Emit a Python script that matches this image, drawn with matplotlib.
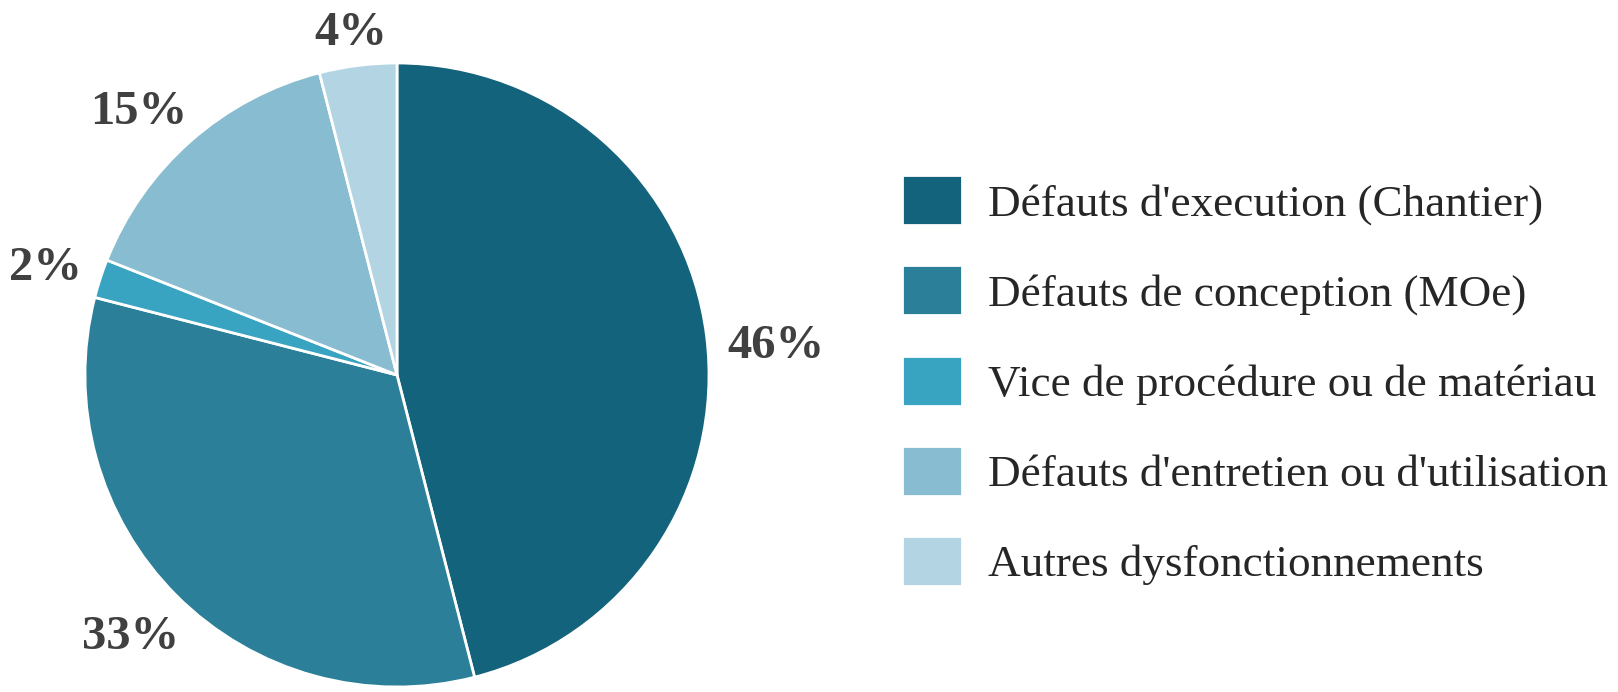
import matplotlib
matplotlib.use("Agg")
import matplotlib.pyplot as plt

labels = [
    "Défauts d'execution (Chantier)",
    "Défauts de conception (MOe)",
    "Vice de procédure ou de matériau",
    "Défauts d'entretien ou d'utilisation",
    "Autres dysfonctionnements",
]
shares = [46, 33, 2, 15, 4]
colors = ["#14637C", "#2B7F98", "#38A4C1", "#88BCD1", "#B3D4E2"]

# where each percentage label sits, in pie-radius units
label_pos = [(1.215, 0.093), (-0.853, -0.840), (-1.128, 0.343), (-0.827, 0.843), (-0.147, 1.096)]

plt.rcParams["font.family"] = ["Liberation Serif", "DejaVu Serif"]

fig = plt.figure(figsize=(16.18, 6.92), dpi=100)

# pie: centre ~ (397, 375) px from top-left, radius ~312 px
r_px = 312
cx, cy = 397, 692 - 375
ax = fig.add_axes([(cx - r_px) / 1618, (cy - r_px) / 692, 2 * r_px / 1618, 2 * r_px / 692])

wedges, texts, autotexts = ax.pie(
    shares, colors=colors, startangle=90, counterclock=False,
    autopct="%d%%", pctdistance=1.19,
    wedgeprops=dict(edgecolor="white", linewidth=2),
    textprops=dict(fontsize=35, fontweight="bold", color="#404040"),
)
for t, (x, y) in zip(autotexts, label_pos):
    t.set_position((x, y))
ax.set_xlim(-1, 1)
ax.set_ylim(-1, 1)
ax.set_aspect("equal")
ax.axis("off")

leg = fig.legend(
    wedges, labels, loc="upper left",
    bbox_to_anchor=(902 / 1618, 1 - 175 / 692),
    frameon=False, fontsize=32.5,
    handlelength=1.33, handleheight=1.33,
    handletextpad=0.58, labelspacing=0.89,
    borderpad=0, borderaxespad=0,
)
for t in leg.get_texts():
    t.set_color("#262626")

fig.savefig("out.png", dpi=100)
